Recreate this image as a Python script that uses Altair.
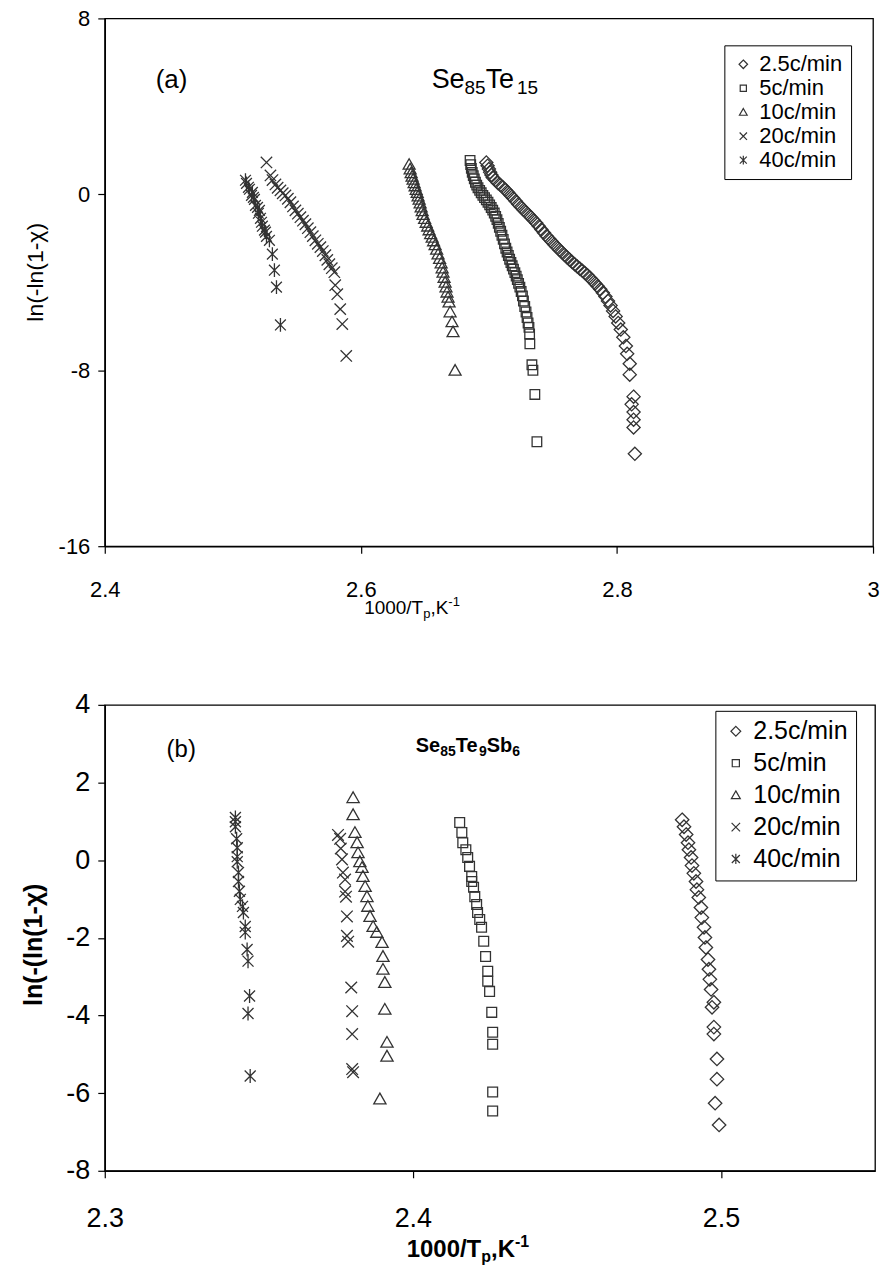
import altair as alt
import pandas as pd

FONT = "Liberation Sans"
INK = "#333333"

# ---------------- panel (a): Se85Te15 ----------------
rates = ["2.5c/min", "5c/min", "10c/min", "20c/min", "40c/min"]

a25_x = [2.698, 2.699, 2.700, 2.701, 2.702, 2.703, 2.705, 2.707, 2.709, 2.711, 2.713, 2.715,
         2.717, 2.719, 2.721, 2.723, 2.725, 2.727, 2.729, 2.731, 2.733, 2.735, 2.737, 2.739,
         2.741, 2.743, 2.745, 2.747, 2.749, 2.751, 2.753, 2.755, 2.757, 2.759, 2.761, 2.763,
         2.765, 2.767, 2.769, 2.771, 2.773, 2.775, 2.777, 2.779, 2.781, 2.783, 2.785, 2.787,
         2.789, 2.791, 2.793, 2.795, 2.797, 2.799, 2.801, 2.803, 2.805, 2.807, 2.808, 2.810,
         2.810, 2.813, 2.8115, 2.813, 2.813, 2.813, 2.814]
a25_y = [1.45, 1.30, 1.15, 1.00, 0.88, 0.76, 0.65, 0.52, 0.42, 0.32, 0.20, 0.08,
         -0.05, -0.18, -0.32, -0.45, -0.58, -0.70, -0.82, -0.93, -1.05, -1.18, -1.30, -1.45,
         -1.60, -1.75, -1.90, -2.02, -2.15, -2.28, -2.40, -2.52, -2.63, -2.75, -2.86, -2.97,
         -3.08, -3.18, -3.28, -3.38, -3.48, -3.58, -3.68, -3.80, -3.92, -4.05, -4.18, -4.32,
         -4.48, -4.65, -4.85, -5.05, -5.30, -5.55, -5.85, -6.15, -6.50, -6.90, -7.25, -7.70,
         -8.20, -9.20, -9.55, -9.90, -10.25, -10.60, -11.80]

a5_x = [2.6853, 2.6858, 2.6863, 2.6870, 2.6878, 2.6886, 2.6895, 2.6905, 2.6915, 2.6928,
        2.6940, 2.6953, 2.6966, 2.6980, 2.6993, 2.7006, 2.7018, 2.7030, 2.7042, 2.7053,
        2.7063, 2.7073, 2.7082, 2.7092, 2.7102, 2.7112, 2.7122, 2.7132, 2.7142, 2.7152,
        2.7162, 2.7172, 2.7182, 2.7192, 2.7203, 2.7213, 2.7222, 2.7232, 2.7242, 2.7252,
        2.7262, 2.7270, 2.7280, 2.7290, 2.7298, 2.7306, 2.7313, 2.7318, 2.7320, 2.7336,
        2.7344, 2.7359, 2.7375]
a5_y = [1.54, 1.35, 1.18, 1.00, 0.85, 0.70, 0.55, 0.42, 0.30, 0.18,
        0.07, -0.05, -0.15, -0.25, -0.36, -0.48, -0.60, -0.72, -0.85, -1.00,
        -1.15, -1.32, -1.50, -1.68, -1.86, -2.05, -2.25, -2.45, -2.62, -2.78,
        -2.95, -3.10, -3.25, -3.40, -3.56, -3.72, -3.88, -4.05, -4.22, -4.42,
        -4.62, -4.85, -5.10, -5.35, -5.60, -5.85, -6.05, -6.35, -6.80, -7.75,
        -8.00, -9.10, -11.25]

a10_x = [2.6377, 2.6385, 2.6393, 2.6400, 2.6408, 2.6416, 2.6424, 2.6432, 2.6440, 2.6447,
         2.6455, 2.6463, 2.6471, 2.6479, 2.6486, 2.6498, 2.6510, 2.6522, 2.6533, 2.6545,
         2.6557, 2.6568, 2.6580, 2.6592, 2.6603, 2.6615, 2.6627, 2.6635, 2.6642, 2.6650,
         2.6658, 2.6665, 2.6673, 2.6681, 2.6689, 2.6697, 2.6712, 2.6720, 2.6736]
a10_y = [1.36, 1.15, 0.98, 0.82, 0.68, 0.52, 0.38, 0.22, 0.08, -0.08,
         -0.23, -0.40, -0.58, -0.75, -0.92, -1.10, -1.28, -1.45, -1.62, -1.80,
         -1.96, -2.12, -2.30, -2.50, -2.72, -2.92, -3.13, -3.35, -3.55, -3.78,
         -4.00, -4.22, -4.45, -4.68, -4.90, -5.35, -5.80, -6.25, -8.00]

a20_x = [2.5263, 2.5294, 2.5310, 2.5333, 2.5350, 2.5372, 2.5390, 2.5411, 2.5430, 2.5450,
         2.5470, 2.5489, 2.5508, 2.5528, 2.5548, 2.5567, 2.5586, 2.5606, 2.5625, 2.5645,
         2.5664, 2.5684, 2.5703, 2.5723, 2.5738, 2.5754, 2.5773, 2.5793, 2.5800, 2.5816,
         2.5839, 2.5855, 2.5886]
a20_y = [1.45, 0.86, 0.65, 0.45, 0.30, 0.18, 0.05, -0.05, -0.20, -0.36,
         -0.55, -0.73, -0.88, -1.04, -1.20, -1.36, -1.54, -1.72, -1.90, -2.09,
         -2.25, -2.40, -2.58, -2.77, -2.98, -3.18, -3.36, -3.54, -4.13, -4.54,
         -5.22, -5.90, -7.35]

a40_x = [2.5099, 2.5107, 2.5122, 2.5130, 2.5146, 2.5153, 2.5161, 2.5169, 2.5177, 2.5193,
         2.5200, 2.5208, 2.5216, 2.5224, 2.5231, 2.5247, 2.5255, 2.5263, 2.5286, 2.5309,
         2.5325, 2.5341, 2.5372]
a40_y = [0.64, 0.50, 0.32, 0.23, -0.05, 0.09, -0.14, -0.23, -0.50, -0.59,
         -0.86, -0.73, -1.09, -1.27, -1.45, -1.63, -1.72, -1.91, -2.09, -2.72,
         -3.45, -4.22, -5.94]

# ---------------- panel (b): Se85Te9Sb6 ----------------
b25_x = [2.4874, 2.4880, 2.4887, 2.4893, 2.4896, 2.4903, 2.4906, 2.4912, 2.4919, 2.4922,
         2.4928, 2.4935, 2.4938, 2.4945, 2.4948, 2.4951, 2.4958, 2.4961, 2.4964, 2.4968,
         2.4977, 2.4971, 2.4977, 2.4977, 2.4987, 2.4987, 2.4981, 2.4994]
b25_y = [1.04, 0.86, 0.66, 0.45, 0.27, 0.07, -0.14, -0.34, -0.55, -0.76,
         -0.96, -1.22, -1.48, -1.73, -1.99, -2.25, -2.56, -2.81, -3.07, -3.33,
         -3.66, -3.79, -4.30, -4.48, -5.12, -5.64, -6.26, -6.82]

b5_x = [2.4152, 2.4159, 2.4162, 2.4172, 2.4178, 2.4184, 2.4191, 2.4191, 2.4197, 2.4201,
        2.4207, 2.4210, 2.4217, 2.4223, 2.4230, 2.4236, 2.4243, 2.4243, 2.4249, 2.4256,
        2.4259, 2.4259, 2.4259, 2.4259]
b5_y = [0.97, 0.71, 0.45, 0.27, 0.07, -0.16, -0.42, -0.55, -0.70, -0.94,
        -1.14, -1.35, -1.53, -1.73, -2.09, -2.48, -2.86, -3.12, -3.38, -3.92,
        -4.43, -4.74, -5.97, -6.46]

b10_x = [2.3806, 2.3806, 2.3812, 2.3819, 2.3822, 2.3828, 2.3835, 2.3838, 2.3845, 2.3851,
         2.3854, 2.3861, 2.3871, 2.3883, 2.3900, 2.3903, 2.3903, 2.3909, 2.3909, 2.3916,
         2.3916, 2.3893]
b10_y = [1.61, 1.17, 0.71, 0.45, 0.19, -0.04, -0.19, -0.42, -0.68, -0.94,
         -1.19, -1.45, -1.71, -1.86, -2.12, -2.48, -2.81, -3.15, -3.84, -4.69,
         -5.05, -6.15]

b20_x = [2.3757, 2.3764, 2.3766, 2.3770, 2.3773, 2.3780, 2.3780, 2.3783, 2.3786, 2.3786,
         2.3790, 2.3800, 2.3803, 2.3803, 2.3803, 2.3806]
b20_y = [0.65, 0.55, 0.30, 0.02, -0.32, -0.50, -0.81, -0.94, -1.45, -1.95,
         -2.10, -3.28, -3.89, -4.48, -5.38, -5.46]

b40_x = [2.3424, 2.3424, 2.3424, 2.3428, 2.3430, 2.3430, 2.3430, 2.3434, 2.3434, 2.3437,
         2.3440, 2.3447, 2.3450, 2.3456, 2.3456, 2.3462, 2.3465, 2.3470, 2.3465, 2.3472]
b40_y = [1.10, 0.99, 0.86, 0.55, 0.32, 0.09, -0.04, -0.32, -0.55, -0.80,
         -1.01, -1.19, -1.35, -1.71, -1.86, -2.30, -2.60, -3.50, -3.95, -5.56]

a_ticks_x = [2.4, 2.6, 2.8, 3.0]
a_ticks_y = [-16, -8, 0, 8]
b_ticks_x = [2.3, 2.4, 2.5]
b_ticks_y = [-8, -6, -4, -2, 0, 2, 4]

# marker outlines (unit coordinates)
SHAPES = [
    "M0,-1.1L1.1,0L0,1.1L-1.1,0Z",                      # diamond
    "M-0.8,-0.8L0.8,-0.8L0.8,0.8L-0.8,0.8Z",            # square
    "M0,-0.95L1,0.8L-1,0.8Z",                           # triangle
    "M-0.95,-0.95L0.95,0.95M-0.95,0.95L0.95,-0.95",     # x
    "M-0.9,-0.9L0.9,0.9M-0.9,0.9L0.9,-0.9M0,-1.15L0,1.15",  # asterisk
]


def frame(series):
    rows = []
    for rate, xs, ys in series:
        for x, y in zip(xs, ys):
            rows.append({"x": x, "y": y, "rate": rate})
    return pd.DataFrame(rows)


REG = {'S': 667, 'e': 556, 'T': 611, 'b': 556, 'p': 556, '/': 278, ',': 278, 'K': 667, '-': 333,
       '(': 333, ')': 333, 'a': 556}
BOLD = {'S': 667, 'e': 556, 'T': 611, 'b': 611, 'p': 611, '/': 278, ',': 278, 'K': 722, '-': 333}


def tw(s, size, bold):
    table = BOLD if bold else REG
    return sum(table.get(c, 556) for c in s) * size / 1000.0


def rich(pieces, anchor_x, base_y, bold, centered):
    total = sum(tw(t, s, bold) for t, s, _ in pieces)
    x = anchor_x - total / 2 if centered else anchor_x
    layers = []
    for t, s, dy in pieces:
        layers.append(
            alt.Chart(pd.DataFrame({"t": [t]})).mark_text(
                align="left", baseline="alphabetic", fontSize=s, font=FONT,
                fontWeight="bold" if bold else "normal", color="black"
            ).encode(x=alt.value(x), y=alt.value(base_y + dy), text="t:N")
        )
        x += tw(t, s, bold)
    return layers


HYPHEN = "replace(datum.label, '\u2212', '-')"


def panel(df, xdom, ydom, xt, yt, size, lab_size, ytitle, ytitle_size, ytitle_bold,
          ytitle_x, ytitle_y, leg_x, leg_y, leg_font, leg_row, leg_sym, xlabpad):
    pts = alt.Chart(df).mark_point(filled=False, strokeWidth=1.3, color=INK, size=size, opacity=1).encode(
        x=alt.X("x:Q", scale=alt.Scale(domain=xdom, nice=False, zero=False),
                axis=alt.Axis(values=xt, format=".1~f", title=None, grid=False, labelFontSize=lab_size,
                              labelFont=FONT, labelColor="black", tickColor="black", domainColor="black",
                              tickSize=7, labelPadding=xlabpad, labelFlush=False, labelOverlap=False)),
        y=alt.Y("y:Q", scale=alt.Scale(domain=ydom, nice=False, zero=False),
                axis=alt.Axis(values=yt, title=ytitle, grid=False, labelFontSize=lab_size,
                              labelExpr=HYPHEN,
                              labelFont=FONT, labelColor="black", tickColor="black", domainColor="black",
                              tickSize=7, labelPadding=8, titleFont=FONT, titleFontSize=ytitle_size,
                              titleFontWeight="bold" if ytitle_bold else "normal", titleColor="black",
                              titleAngle=270, titleX=ytitle_x, titleY=ytitle_y, titleAlign="center",
                              titleBaseline="middle", labelFlush=False)),
        shape=alt.Shape("rate:N", scale=alt.Scale(domain=rates, range=SHAPES),
                        legend=alt.Legend(title=None, orient="none", legendX=leg_x, legendY=leg_y,
                                          fillColor="white", strokeColor="black", padding=8,
                                          labelFont=FONT, labelFontSize=leg_font, labelColor="black",
                                          symbolSize=leg_sym, symbolStrokeColor=INK, symbolStrokeWidth=1.2,
                                          symbolFillColor="transparent", rowPadding=leg_row, labelOffset=5,
                                          labelLimit=300)),
    )
    return pts


df_a = frame([(rates[0], a25_x, a25_y), (rates[1], a5_x, a5_y), (rates[2], a10_x, a10_y),
              (rates[3], a20_x, a20_y), (rates[4], a40_x, a40_y)])
df_b = frame([(rates[0], b25_x, b25_y), (rates[1], b5_x, b5_y), (rates[2], b10_x, b10_y),
              (rates[3], b20_x, b20_y), (rates[4], b40_x, b40_y)])

WA, HA = 770, 529
WB, HB = 772, 467

pa = panel(df_a, [2.4, 3.0], [-16, 8], a_ticks_x, a_ticks_y, 144, 22,
           "ln(-ln(1-\u03c7)", 23, False, -69, 254, 621, 27, 22, 2, 60, 26)
ta = rich([("Se", 27, 0), ("85", 19, 6), ("Te", 27, 0), ("15", 19, 6)], 381, 70, False, True)
la = rich([("(a)", 26, 0)], 51, 70, False, False)
xa = rich([("1000/T", 19, 0), ("p", 13, 4), (",K", 19, 0), ("-1", 13, -8)], 308, 597, False, True)
chart_a = alt.layer(pa, *ta, *la, *xa).properties(width=WA, height=HA)

pb = panel(df_b, [2.3, 2.55], [-8, 4], b_ticks_x, b_ticks_y, 150, 27,
           "ln(-(ln(1-\u03c7)", 25, True, -71, 240, 612, 6, 25, 6, 80, 28)
tb = rich([("Se", 20, 0), ("85", 14, 4), ("Te", 20, 0), ("9", 14, 4), ("Sb", 20, 0), ("6", 14, 4)],
          364, 47, True, True)
lb = rich([("(b)", 24, 0)], 62, 52, False, False)
xb = rich([("1000/T", 24, 0), ("p", 16, 5), (",K", 24, 0), ("-1", 16, -10)], 364, 553, True, True)
chart_b = alt.layer(pb, *tb, *lb, *xb).properties(width=WB, height=HB)

chart = alt.vconcat(chart_a, chart_b, spacing=68).resolve_scale(
    x="independent", y="independent", shape="independent"
).resolve_legend(shape="independent").properties(
    padding={"left": 21, "top": 5, "right": 0, "bottom": 0}, background="white"
).configure_view(stroke="black", strokeWidth=1.3).configure_axis(domainWidth=1.5, tickWidth=1.2)

chart.save("out.html", embed_options={"renderer": "svg", "actions": False})
